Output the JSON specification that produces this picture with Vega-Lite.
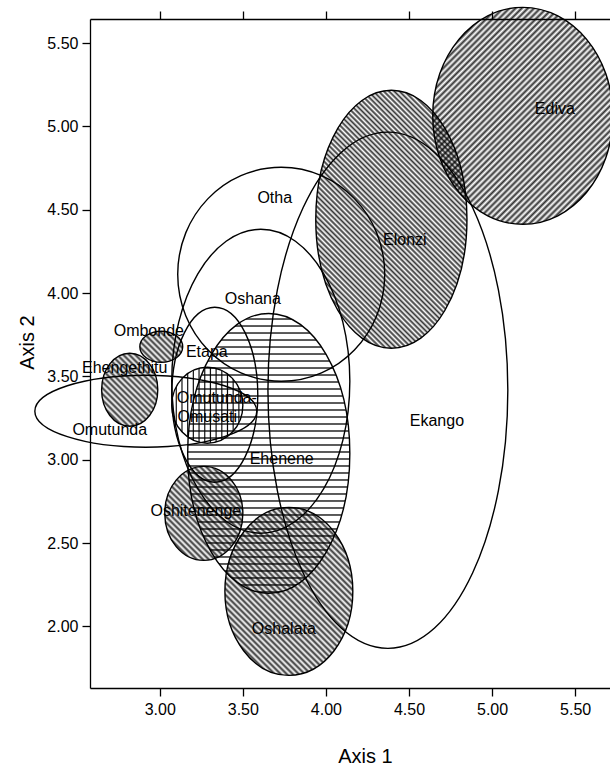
{
"$schema":"https://vega.github.io/schema/vega-lite/v6.json",
"width":520,"height":669,"autosize":"none",
"padding":{"left":90,"top":19,"right":0,"bottom":77},
"config":{"view":{"stroke":null},"axis":{"grid":false,"domainColor":"black","domainWidth":1.3,"tickColor":"black","tickWidth":1.3,"tickSize":8,"labelFont":"Liberation Sans","labelFontSize":16,"labelColor":"black","titleFont":"Liberation Sans","titleFontSize":20,"titleFontWeight":"normal","titleColor":"black"}},
"datasets":{
"ell":[
{"e":"Ediva","o":0,"x":5.185,"y":5.715},{"e":"Ediva","o":1,"x":5.727,"y":5.064},{"e":"Ediva","o":2,"x":5.185,"y":4.413},{"e":"Ediva","o":3,"x":4.643,"y":5.064},
{"e":"Elonzi","o":0,"x":4.394,"y":5.217},{"e":"Elonzi","o":1,"x":4.849,"y":4.443},{"e":"Elonzi","o":2,"x":4.394,"y":3.669},{"e":"Elonzi","o":3,"x":3.939,"y":4.443},
{"e":"Ekango","o":0,"x":4.373,"y":4.966},{"e":"Ekango","o":1,"x":5.095,"y":3.417},{"e":"Ekango","o":2,"x":4.373,"y":1.868},{"e":"Ekango","o":3,"x":3.651,"y":3.417},
{"e":"Otha","o":0,"x":3.731,"y":4.755},{"e":"Otha","o":1,"x":4.354,"y":4.113},{"e":"Otha","o":2,"x":3.731,"y":3.471},{"e":"Otha","o":3,"x":3.108,"y":4.113},
{"e":"Oshana","o":0,"x":3.608,"y":4.383},{"e":"Oshana","o":1,"x":4.144,"y":3.471},{"e":"Oshana","o":2,"x":3.608,"y":2.559},{"e":"Oshana","o":3,"x":3.072,"y":3.471},
{"e":"Etapa","o":0,"x":3.331,"y":3.915},{"e":"Etapa","o":1,"x":3.59,"y":3.39},{"e":"Etapa","o":2,"x":3.331,"y":2.865},{"e":"Etapa","o":3,"x":3.072,"y":3.39},
{"e":"Ombonde","o":0,"x":3.009,"y":3.771},{"e":"Ombonde","o":1,"x":3.138,"y":3.678},{"e":"Ombonde","o":2,"x":3.009,"y":3.585},{"e":"Ombonde","o":3,"x":2.88,"y":3.678},
{"e":"Ehengethitu","o":0,"x":2.819,"y":3.639},{"e":"Ehengethitu","o":1,"x":2.988,"y":3.42},{"e":"Ehengethitu","o":2,"x":2.819,"y":3.201},{"e":"Ehengethitu","o":3,"x":2.65,"y":3.42},
{"e":"Omutunda","o":0,"x":2.916,"y":3.507},{"e":"Omutunda","o":1,"x":3.584,"y":3.291},{"e":"Omutunda","o":2,"x":2.916,"y":3.075},{"e":"Omutunda","o":3,"x":2.248,"y":3.291},
{"e":"Omutunda-Omusati","o":0,"x":3.286,"y":3.555},{"e":"Omutunda-Omusati","o":1,"x":3.5,"y":3.327},{"e":"Omutunda-Omusati","o":2,"x":3.286,"y":3.099},{"e":"Omutunda-Omusati","o":3,"x":3.072,"y":3.327},
{"e":"Ehenene","o":0,"x":3.656,"y":3.878},{"e":"Ehenene","o":1,"x":4.144,"y":3.038},{"e":"Ehenene","o":2,"x":3.656,"y":2.198},{"e":"Ehenene","o":3,"x":3.168,"y":3.038},
{"e":"Oshitenenge","o":0,"x":3.265,"y":2.96},{"e":"Oshitenenge","o":1,"x":3.5,"y":2.678},{"e":"Oshitenenge","o":2,"x":3.265,"y":2.396},{"e":"Oshitenenge","o":3,"x":3.03,"y":2.678},
{"e":"Oshalata","o":0,"x":3.777,"y":2.714},{"e":"Oshalata","o":1,"x":4.162,"y":2.21},{"e":"Oshalata","o":2,"x":3.777,"y":1.706},{"e":"Oshalata","o":3,"x":3.392,"y":2.21}
],
"lab":[
{"name":"Ediva","x":5.378,"y":5.103},{"name":"Elonzi","x":4.475,"y":4.317},{"name":"Otha","x":3.692,"y":4.569},{"name":"Oshana","x":3.56,"y":3.963},{"name":"Ombonde","x":2.934,"y":3.771},{"name":"Etapa","x":3.283,"y":3.645},{"name":"Ehengethitu","x":2.789,"y":3.549},{"name":"Omutunda","x":2.699,"y":3.176},{"name":"Omutunda-","x":3.343,"y":3.369},{"name":"Omusati","x":3.286,"y":3.254},{"name":"Ekango","x":4.668,"y":3.23},{"name":"Ehenene","x":3.734,"y":3.002},{"name":"Oshitenenge","x":3.217,"y":2.69},{"name":"Oshalata","x":3.747,"y":1.982}
]},
"resolve":{"axis":{"x":"independent","y":"independent"}},
"layer":[
{"data":{"name":"ell"},"transform":[{"filter":"datum.e === 'Ediva'"}],
"mark":{"type":"line","interpolate":"cardinal-closed","tension":-0.657,"strokeOpacity":0,"fill":{"gradient":"linear","x1":0,"y1":0,"x2":1.4049,"y2":1.6919,"stops":[
{"offset":0,"color":"transparent"},{"offset":0.005,"color":"rgba(0,0,0,0.8)"},{"offset":0.01,"color":"transparent"},{"offset":0.015,"color":"rgba(0,0,0,0.8)"},{"offset":0.02,"color":"transparent"},{"offset":0.025,"color":"rgba(0,0,0,0.8)"},{"offset":0.03,"color":"transparent"},{"offset":0.035,"color":"rgba(0,0,0,0.8)"},{"offset":0.04,"color":"transparent"},{"offset":0.045,"color":"rgba(0,0,0,0.8)"},{"offset":0.05,"color":"transparent"},{"offset":0.055,"color":"rgba(0,0,0,0.8)"},{"offset":0.06,"color":"transparent"},{"offset":0.065,"color":"rgba(0,0,0,0.8)"},{"offset":0.07,"color":"transparent"},{"offset":0.075,"color":"rgba(0,0,0,0.8)"},{"offset":0.08,"color":"transparent"},{"offset":0.085,"color":"rgba(0,0,0,0.8)"},{"offset":0.09,"color":"transparent"},{"offset":0.095,"color":"rgba(0,0,0,0.8)"},
{"offset":0.1,"color":"transparent"},{"offset":0.105,"color":"rgba(0,0,0,0.8)"},{"offset":0.11,"color":"transparent"},{"offset":0.115,"color":"rgba(0,0,0,0.8)"},{"offset":0.12,"color":"transparent"},{"offset":0.125,"color":"rgba(0,0,0,0.8)"},{"offset":0.13,"color":"transparent"},{"offset":0.135,"color":"rgba(0,0,0,0.8)"},{"offset":0.14,"color":"transparent"},{"offset":0.145,"color":"rgba(0,0,0,0.8)"},{"offset":0.15,"color":"transparent"},{"offset":0.155,"color":"rgba(0,0,0,0.8)"},{"offset":0.16,"color":"transparent"},{"offset":0.165,"color":"rgba(0,0,0,0.8)"},{"offset":0.17,"color":"transparent"},{"offset":0.175,"color":"rgba(0,0,0,0.8)"},{"offset":0.18,"color":"transparent"},{"offset":0.185,"color":"rgba(0,0,0,0.8)"},{"offset":0.19,"color":"transparent"},{"offset":0.195,"color":"rgba(0,0,0,0.8)"},
{"offset":0.2,"color":"transparent"},{"offset":0.205,"color":"rgba(0,0,0,0.8)"},{"offset":0.21,"color":"transparent"},{"offset":0.215,"color":"rgba(0,0,0,0.8)"},{"offset":0.22,"color":"transparent"},{"offset":0.225,"color":"rgba(0,0,0,0.8)"},{"offset":0.23,"color":"transparent"},{"offset":0.235,"color":"rgba(0,0,0,0.8)"},{"offset":0.24,"color":"transparent"},{"offset":0.245,"color":"rgba(0,0,0,0.8)"},{"offset":0.25,"color":"transparent"},{"offset":0.255,"color":"rgba(0,0,0,0.8)"},{"offset":0.26,"color":"transparent"},{"offset":0.265,"color":"rgba(0,0,0,0.8)"},{"offset":0.27,"color":"transparent"},{"offset":0.275,"color":"rgba(0,0,0,0.8)"},{"offset":0.28,"color":"transparent"},{"offset":0.285,"color":"rgba(0,0,0,0.8)"},{"offset":0.29,"color":"transparent"},{"offset":0.295,"color":"rgba(0,0,0,0.8)"},
{"offset":0.3,"color":"transparent"},{"offset":0.305,"color":"rgba(0,0,0,0.8)"},{"offset":0.31,"color":"transparent"},{"offset":0.315,"color":"rgba(0,0,0,0.8)"},{"offset":0.32,"color":"transparent"},{"offset":0.325,"color":"rgba(0,0,0,0.8)"},{"offset":0.33,"color":"transparent"},{"offset":0.335,"color":"rgba(0,0,0,0.8)"},{"offset":0.34,"color":"transparent"},{"offset":0.345,"color":"rgba(0,0,0,0.8)"},{"offset":0.35,"color":"transparent"},{"offset":0.355,"color":"rgba(0,0,0,0.8)"},{"offset":0.36,"color":"transparent"},{"offset":0.365,"color":"rgba(0,0,0,0.8)"},{"offset":0.37,"color":"transparent"},{"offset":0.375,"color":"rgba(0,0,0,0.8)"},{"offset":0.38,"color":"transparent"},{"offset":0.385,"color":"rgba(0,0,0,0.8)"},{"offset":0.39,"color":"transparent"},{"offset":0.395,"color":"rgba(0,0,0,0.8)"},
{"offset":0.4,"color":"transparent"},{"offset":0.405,"color":"rgba(0,0,0,0.8)"},{"offset":0.41,"color":"transparent"},{"offset":0.415,"color":"rgba(0,0,0,0.8)"},{"offset":0.42,"color":"transparent"},{"offset":0.425,"color":"rgba(0,0,0,0.8)"},{"offset":0.43,"color":"transparent"},{"offset":0.435,"color":"rgba(0,0,0,0.8)"},{"offset":0.44,"color":"transparent"},{"offset":0.445,"color":"rgba(0,0,0,0.8)"},{"offset":0.45,"color":"transparent"},{"offset":0.455,"color":"rgba(0,0,0,0.8)"},{"offset":0.46,"color":"transparent"},{"offset":0.465,"color":"rgba(0,0,0,0.8)"},{"offset":0.47,"color":"transparent"},{"offset":0.475,"color":"rgba(0,0,0,0.8)"},{"offset":0.48,"color":"transparent"},{"offset":0.485,"color":"rgba(0,0,0,0.8)"},{"offset":0.49,"color":"transparent"},{"offset":0.495,"color":"rgba(0,0,0,0.8)"},
{"offset":0.5,"color":"transparent"},{"offset":0.505,"color":"rgba(0,0,0,0.8)"},{"offset":0.51,"color":"transparent"},{"offset":0.515,"color":"rgba(0,0,0,0.8)"},{"offset":0.52,"color":"transparent"},{"offset":0.525,"color":"rgba(0,0,0,0.8)"},{"offset":0.53,"color":"transparent"},{"offset":0.535,"color":"rgba(0,0,0,0.8)"},{"offset":0.54,"color":"transparent"},{"offset":0.545,"color":"rgba(0,0,0,0.8)"},{"offset":0.55,"color":"transparent"},{"offset":0.555,"color":"rgba(0,0,0,0.8)"},{"offset":0.56,"color":"transparent"},{"offset":0.565,"color":"rgba(0,0,0,0.8)"},{"offset":0.57,"color":"transparent"},{"offset":0.575,"color":"rgba(0,0,0,0.8)"},{"offset":0.58,"color":"transparent"},{"offset":0.585,"color":"rgba(0,0,0,0.8)"},{"offset":0.59,"color":"transparent"},{"offset":0.595,"color":"rgba(0,0,0,0.8)"},
{"offset":0.6,"color":"transparent"},{"offset":0.605,"color":"rgba(0,0,0,0.8)"},{"offset":0.61,"color":"transparent"},{"offset":0.615,"color":"rgba(0,0,0,0.8)"},{"offset":0.62,"color":"transparent"},{"offset":0.625,"color":"rgba(0,0,0,0.8)"},{"offset":0.63,"color":"transparent"},{"offset":0.635,"color":"rgba(0,0,0,0.8)"},{"offset":0.64,"color":"transparent"},{"offset":0.645,"color":"rgba(0,0,0,0.8)"},{"offset":0.65,"color":"transparent"}
]}},
"encoding":{"x":{"field":"x","type":"quantitative","scale":{"domain":[2.58,5.71],"nice":false,"zero":false},"axis":null},"y":{"field":"y","type":"quantitative","scale":{"domain":[1.63,5.645],"nice":false,"zero":false},"axis":null},"order":{"field":"o"}}},
{"data":{"name":"ell"},"transform":[{"filter":"datum.e === 'Elonzi'"}],
"mark":{"type":"line","interpolate":"cardinal-closed","tension":-0.657,"strokeOpacity":0,"fill":{"gradient":"linear","x1":0,"y1":1,"x2":0.8797,"y2":-0.5005,"stops":[
{"offset":0,"color":"transparent"},{"offset":0.005,"color":"rgba(0,0,0,0.8)"},{"offset":0.01,"color":"transparent"},{"offset":0.015,"color":"rgba(0,0,0,0.8)"},{"offset":0.02,"color":"transparent"},{"offset":0.025,"color":"rgba(0,0,0,0.8)"},{"offset":0.03,"color":"transparent"},{"offset":0.035,"color":"rgba(0,0,0,0.8)"},{"offset":0.04,"color":"transparent"},{"offset":0.045,"color":"rgba(0,0,0,0.8)"},{"offset":0.05,"color":"transparent"},{"offset":0.055,"color":"rgba(0,0,0,0.8)"},{"offset":0.06,"color":"transparent"},{"offset":0.065,"color":"rgba(0,0,0,0.8)"},{"offset":0.07,"color":"transparent"},{"offset":0.075,"color":"rgba(0,0,0,0.8)"},{"offset":0.08,"color":"transparent"},{"offset":0.085,"color":"rgba(0,0,0,0.8)"},{"offset":0.09,"color":"transparent"},{"offset":0.095,"color":"rgba(0,0,0,0.8)"},
{"offset":0.1,"color":"transparent"},{"offset":0.105,"color":"rgba(0,0,0,0.8)"},{"offset":0.11,"color":"transparent"},{"offset":0.115,"color":"rgba(0,0,0,0.8)"},{"offset":0.12,"color":"transparent"},{"offset":0.125,"color":"rgba(0,0,0,0.8)"},{"offset":0.13,"color":"transparent"},{"offset":0.135,"color":"rgba(0,0,0,0.8)"},{"offset":0.14,"color":"transparent"},{"offset":0.145,"color":"rgba(0,0,0,0.8)"},{"offset":0.15,"color":"transparent"},{"offset":0.155,"color":"rgba(0,0,0,0.8)"},{"offset":0.16,"color":"transparent"},{"offset":0.165,"color":"rgba(0,0,0,0.8)"},{"offset":0.17,"color":"transparent"},{"offset":0.175,"color":"rgba(0,0,0,0.8)"},{"offset":0.18,"color":"transparent"},{"offset":0.185,"color":"rgba(0,0,0,0.8)"},{"offset":0.19,"color":"transparent"},{"offset":0.195,"color":"rgba(0,0,0,0.8)"},
{"offset":0.2,"color":"transparent"},{"offset":0.205,"color":"rgba(0,0,0,0.8)"},{"offset":0.21,"color":"transparent"},{"offset":0.215,"color":"rgba(0,0,0,0.8)"},{"offset":0.22,"color":"transparent"},{"offset":0.225,"color":"rgba(0,0,0,0.8)"},{"offset":0.23,"color":"transparent"},{"offset":0.235,"color":"rgba(0,0,0,0.8)"},{"offset":0.24,"color":"transparent"},{"offset":0.245,"color":"rgba(0,0,0,0.8)"},{"offset":0.25,"color":"transparent"},{"offset":0.255,"color":"rgba(0,0,0,0.8)"},{"offset":0.26,"color":"transparent"},{"offset":0.265,"color":"rgba(0,0,0,0.8)"},{"offset":0.27,"color":"transparent"},{"offset":0.275,"color":"rgba(0,0,0,0.8)"},{"offset":0.28,"color":"transparent"},{"offset":0.285,"color":"rgba(0,0,0,0.8)"},{"offset":0.29,"color":"transparent"},{"offset":0.295,"color":"rgba(0,0,0,0.8)"},
{"offset":0.3,"color":"transparent"},{"offset":0.305,"color":"rgba(0,0,0,0.8)"},{"offset":0.31,"color":"transparent"},{"offset":0.315,"color":"rgba(0,0,0,0.8)"},{"offset":0.32,"color":"transparent"},{"offset":0.325,"color":"rgba(0,0,0,0.8)"},{"offset":0.33,"color":"transparent"},{"offset":0.335,"color":"rgba(0,0,0,0.8)"},{"offset":0.34,"color":"transparent"},{"offset":0.345,"color":"rgba(0,0,0,0.8)"},{"offset":0.35,"color":"transparent"},{"offset":0.355,"color":"rgba(0,0,0,0.8)"},{"offset":0.36,"color":"transparent"},{"offset":0.365,"color":"rgba(0,0,0,0.8)"},{"offset":0.37,"color":"transparent"},{"offset":0.375,"color":"rgba(0,0,0,0.8)"},{"offset":0.38,"color":"transparent"},{"offset":0.385,"color":"rgba(0,0,0,0.8)"},{"offset":0.39,"color":"transparent"},{"offset":0.395,"color":"rgba(0,0,0,0.8)"},
{"offset":0.4,"color":"transparent"},{"offset":0.405,"color":"rgba(0,0,0,0.8)"},{"offset":0.41,"color":"transparent"},{"offset":0.415,"color":"rgba(0,0,0,0.8)"},{"offset":0.42,"color":"transparent"},{"offset":0.425,"color":"rgba(0,0,0,0.8)"},{"offset":0.43,"color":"transparent"},{"offset":0.435,"color":"rgba(0,0,0,0.8)"},{"offset":0.44,"color":"transparent"},{"offset":0.445,"color":"rgba(0,0,0,0.8)"},{"offset":0.45,"color":"transparent"},{"offset":0.455,"color":"rgba(0,0,0,0.8)"},{"offset":0.46,"color":"transparent"},{"offset":0.465,"color":"rgba(0,0,0,0.8)"},{"offset":0.47,"color":"transparent"},{"offset":0.475,"color":"rgba(0,0,0,0.8)"},{"offset":0.48,"color":"transparent"},{"offset":0.485,"color":"rgba(0,0,0,0.8)"},{"offset":0.49,"color":"transparent"},{"offset":0.495,"color":"rgba(0,0,0,0.8)"},
{"offset":0.5,"color":"transparent"},{"offset":0.505,"color":"rgba(0,0,0,0.8)"},{"offset":0.51,"color":"transparent"},{"offset":0.515,"color":"rgba(0,0,0,0.8)"},{"offset":0.52,"color":"transparent"},{"offset":0.525,"color":"rgba(0,0,0,0.8)"},{"offset":0.53,"color":"transparent"},{"offset":0.535,"color":"rgba(0,0,0,0.8)"},{"offset":0.54,"color":"transparent"},{"offset":0.545,"color":"rgba(0,0,0,0.8)"},{"offset":0.55,"color":"transparent"},{"offset":0.555,"color":"rgba(0,0,0,0.8)"},{"offset":0.56,"color":"transparent"},{"offset":0.565,"color":"rgba(0,0,0,0.8)"},{"offset":0.57,"color":"transparent"},{"offset":0.575,"color":"rgba(0,0,0,0.8)"},{"offset":0.58,"color":"transparent"},{"offset":0.585,"color":"rgba(0,0,0,0.8)"},{"offset":0.59,"color":"transparent"},{"offset":0.595,"color":"rgba(0,0,0,0.8)"},
{"offset":0.6,"color":"transparent"},{"offset":0.605,"color":"rgba(0,0,0,0.8)"},{"offset":0.61,"color":"transparent"},{"offset":0.615,"color":"rgba(0,0,0,0.8)"},{"offset":0.62,"color":"transparent"},{"offset":0.625,"color":"rgba(0,0,0,0.8)"},{"offset":0.63,"color":"transparent"},{"offset":0.635,"color":"rgba(0,0,0,0.8)"},{"offset":0.64,"color":"transparent"},{"offset":0.645,"color":"rgba(0,0,0,0.8)"},{"offset":0.65,"color":"transparent"},{"offset":0.655,"color":"rgba(0,0,0,0.8)"},{"offset":0.66,"color":"transparent"},{"offset":0.665,"color":"rgba(0,0,0,0.8)"},{"offset":0.67,"color":"transparent"},{"offset":0.675,"color":"rgba(0,0,0,0.8)"},{"offset":0.68,"color":"transparent"},{"offset":0.685,"color":"rgba(0,0,0,0.8)"},{"offset":0.69,"color":"transparent"},{"offset":0.695,"color":"rgba(0,0,0,0.8)"},
{"offset":0.7,"color":"transparent"},{"offset":0.705,"color":"rgba(0,0,0,0.8)"},{"offset":0.71,"color":"transparent"},{"offset":0.715,"color":"rgba(0,0,0,0.8)"},{"offset":0.72,"color":"transparent"},{"offset":0.725,"color":"rgba(0,0,0,0.8)"},{"offset":0.73,"color":"transparent"},{"offset":0.735,"color":"rgba(0,0,0,0.8)"},{"offset":0.74,"color":"transparent"},{"offset":0.745,"color":"rgba(0,0,0,0.8)"},{"offset":0.75,"color":"transparent"},{"offset":0.755,"color":"rgba(0,0,0,0.8)"},{"offset":0.76,"color":"transparent"},{"offset":0.765,"color":"rgba(0,0,0,0.8)"},{"offset":0.77,"color":"transparent"},{"offset":0.775,"color":"rgba(0,0,0,0.8)"},{"offset":0.78,"color":"transparent"},{"offset":0.785,"color":"rgba(0,0,0,0.8)"},{"offset":0.79,"color":"transparent"}
]}},
"encoding":{"x":{"field":"x","type":"quantitative","scale":{"domain":[2.58,5.71],"nice":false,"zero":false},"axis":null},"y":{"field":"y","type":"quantitative","scale":{"domain":[1.63,5.645],"nice":false,"zero":false},"axis":null},"order":{"field":"o"}}},
{"data":{"name":"ell"},"transform":[{"filter":"datum.e === 'Oshalata'"}],
"mark":{"type":"line","interpolate":"cardinal-closed","tension":-0.657,"strokeOpacity":0,"fill":{"gradient":"linear","x1":0,"y1":1,"x2":1.7227,"y2":-1.2628,"stops":[
{"offset":0,"color":"transparent"},{"offset":0.005,"color":"rgba(0,0,0,0.8)"},{"offset":0.01,"color":"transparent"},{"offset":0.015,"color":"rgba(0,0,0,0.8)"},{"offset":0.02,"color":"transparent"},{"offset":0.025,"color":"rgba(0,0,0,0.8)"},{"offset":0.03,"color":"transparent"},{"offset":0.035,"color":"rgba(0,0,0,0.8)"},{"offset":0.04,"color":"transparent"},{"offset":0.045,"color":"rgba(0,0,0,0.8)"},{"offset":0.05,"color":"transparent"},{"offset":0.055,"color":"rgba(0,0,0,0.8)"},{"offset":0.06,"color":"transparent"},{"offset":0.065,"color":"rgba(0,0,0,0.8)"},{"offset":0.07,"color":"transparent"},{"offset":0.075,"color":"rgba(0,0,0,0.8)"},{"offset":0.08,"color":"transparent"},{"offset":0.085,"color":"rgba(0,0,0,0.8)"},{"offset":0.09,"color":"transparent"},{"offset":0.095,"color":"rgba(0,0,0,0.8)"},
{"offset":0.1,"color":"transparent"},{"offset":0.105,"color":"rgba(0,0,0,0.8)"},{"offset":0.11,"color":"transparent"},{"offset":0.115,"color":"rgba(0,0,0,0.8)"},{"offset":0.12,"color":"transparent"},{"offset":0.125,"color":"rgba(0,0,0,0.8)"},{"offset":0.13,"color":"transparent"},{"offset":0.135,"color":"rgba(0,0,0,0.8)"},{"offset":0.14,"color":"transparent"},{"offset":0.145,"color":"rgba(0,0,0,0.8)"},{"offset":0.15,"color":"transparent"},{"offset":0.155,"color":"rgba(0,0,0,0.8)"},{"offset":0.16,"color":"transparent"},{"offset":0.165,"color":"rgba(0,0,0,0.8)"},{"offset":0.17,"color":"transparent"},{"offset":0.175,"color":"rgba(0,0,0,0.8)"},{"offset":0.18,"color":"transparent"},{"offset":0.185,"color":"rgba(0,0,0,0.8)"},{"offset":0.19,"color":"transparent"},{"offset":0.195,"color":"rgba(0,0,0,0.8)"},
{"offset":0.2,"color":"transparent"},{"offset":0.205,"color":"rgba(0,0,0,0.8)"},{"offset":0.21,"color":"transparent"},{"offset":0.215,"color":"rgba(0,0,0,0.8)"},{"offset":0.22,"color":"transparent"},{"offset":0.225,"color":"rgba(0,0,0,0.8)"},{"offset":0.23,"color":"transparent"},{"offset":0.235,"color":"rgba(0,0,0,0.8)"},{"offset":0.24,"color":"transparent"},{"offset":0.245,"color":"rgba(0,0,0,0.8)"},{"offset":0.25,"color":"transparent"},{"offset":0.255,"color":"rgba(0,0,0,0.8)"},{"offset":0.26,"color":"transparent"},{"offset":0.265,"color":"rgba(0,0,0,0.8)"},{"offset":0.27,"color":"transparent"},{"offset":0.275,"color":"rgba(0,0,0,0.8)"},{"offset":0.28,"color":"transparent"},{"offset":0.285,"color":"rgba(0,0,0,0.8)"},{"offset":0.29,"color":"transparent"},{"offset":0.295,"color":"rgba(0,0,0,0.8)"},
{"offset":0.3,"color":"transparent"},{"offset":0.305,"color":"rgba(0,0,0,0.8)"},{"offset":0.31,"color":"transparent"},{"offset":0.315,"color":"rgba(0,0,0,0.8)"},{"offset":0.32,"color":"transparent"},{"offset":0.325,"color":"rgba(0,0,0,0.8)"},{"offset":0.33,"color":"transparent"},{"offset":0.335,"color":"rgba(0,0,0,0.8)"},{"offset":0.34,"color":"transparent"},{"offset":0.345,"color":"rgba(0,0,0,0.8)"},{"offset":0.35,"color":"transparent"},{"offset":0.355,"color":"rgba(0,0,0,0.8)"},{"offset":0.36,"color":"transparent"},{"offset":0.365,"color":"rgba(0,0,0,0.8)"},{"offset":0.37,"color":"transparent"},{"offset":0.375,"color":"rgba(0,0,0,0.8)"},{"offset":0.38,"color":"transparent"},{"offset":0.385,"color":"rgba(0,0,0,0.8)"},{"offset":0.39,"color":"transparent"},{"offset":0.395,"color":"rgba(0,0,0,0.8)"},
{"offset":0.4,"color":"transparent"},{"offset":0.405,"color":"rgba(0,0,0,0.8)"},{"offset":0.41,"color":"transparent"},{"offset":0.415,"color":"rgba(0,0,0,0.8)"},{"offset":0.42,"color":"transparent"},{"offset":0.425,"color":"rgba(0,0,0,0.8)"},{"offset":0.43,"color":"transparent"},{"offset":0.435,"color":"rgba(0,0,0,0.8)"},{"offset":0.44,"color":"transparent"},{"offset":0.445,"color":"rgba(0,0,0,0.8)"},{"offset":0.45,"color":"transparent"},{"offset":0.455,"color":"rgba(0,0,0,0.8)"},{"offset":0.46,"color":"transparent"},{"offset":0.465,"color":"rgba(0,0,0,0.8)"},{"offset":0.47,"color":"transparent"},{"offset":0.475,"color":"rgba(0,0,0,0.8)"},{"offset":0.48,"color":"transparent"},{"offset":0.485,"color":"rgba(0,0,0,0.8)"},{"offset":0.49,"color":"transparent"},{"offset":0.495,"color":"rgba(0,0,0,0.8)"},{"offset":0.5,"color":"transparent"}
]}},
"encoding":{"x":{"field":"x","type":"quantitative","scale":{"domain":[2.58,5.71],"nice":false,"zero":false},"axis":null},"y":{"field":"y","type":"quantitative","scale":{"domain":[1.63,5.645],"nice":false,"zero":false},"axis":null},"order":{"field":"o"}}},
{"data":{"name":"ell"},"transform":[{"filter":"datum.e === 'Oshitenenge'"}],
"mark":{"type":"line","interpolate":"cardinal-closed","tension":-0.657,"strokeOpacity":0,"fill":{"gradient":"linear","x1":0,"y1":1,"x2":3.1374,"y2":-2.7761,"stops":[
{"offset":0,"color":"transparent"},{"offset":0.005,"color":"rgba(0,0,0,0.8)"},{"offset":0.01,"color":"transparent"},{"offset":0.015,"color":"rgba(0,0,0,0.8)"},{"offset":0.02,"color":"transparent"},{"offset":0.025,"color":"rgba(0,0,0,0.8)"},{"offset":0.03,"color":"transparent"},{"offset":0.035,"color":"rgba(0,0,0,0.8)"},{"offset":0.04,"color":"transparent"},{"offset":0.045,"color":"rgba(0,0,0,0.8)"},{"offset":0.05,"color":"transparent"},{"offset":0.055,"color":"rgba(0,0,0,0.8)"},{"offset":0.06,"color":"transparent"},{"offset":0.065,"color":"rgba(0,0,0,0.8)"},{"offset":0.07,"color":"transparent"},{"offset":0.075,"color":"rgba(0,0,0,0.8)"},{"offset":0.08,"color":"transparent"},{"offset":0.085,"color":"rgba(0,0,0,0.8)"},{"offset":0.09,"color":"transparent"},{"offset":0.095,"color":"rgba(0,0,0,0.8)"},
{"offset":0.1,"color":"transparent"},{"offset":0.105,"color":"rgba(0,0,0,0.8)"},{"offset":0.11,"color":"transparent"},{"offset":0.115,"color":"rgba(0,0,0,0.8)"},{"offset":0.12,"color":"transparent"},{"offset":0.125,"color":"rgba(0,0,0,0.8)"},{"offset":0.13,"color":"transparent"},{"offset":0.135,"color":"rgba(0,0,0,0.8)"},{"offset":0.14,"color":"transparent"},{"offset":0.145,"color":"rgba(0,0,0,0.8)"},{"offset":0.15,"color":"transparent"},{"offset":0.155,"color":"rgba(0,0,0,0.8)"},{"offset":0.16,"color":"transparent"},{"offset":0.165,"color":"rgba(0,0,0,0.8)"},{"offset":0.17,"color":"transparent"},{"offset":0.175,"color":"rgba(0,0,0,0.8)"},{"offset":0.18,"color":"transparent"},{"offset":0.185,"color":"rgba(0,0,0,0.8)"},{"offset":0.19,"color":"transparent"},{"offset":0.195,"color":"rgba(0,0,0,0.8)"},
{"offset":0.2,"color":"transparent"},{"offset":0.205,"color":"rgba(0,0,0,0.8)"},{"offset":0.21,"color":"transparent"},{"offset":0.215,"color":"rgba(0,0,0,0.8)"},{"offset":0.22,"color":"transparent"},{"offset":0.225,"color":"rgba(0,0,0,0.8)"},{"offset":0.23,"color":"transparent"},{"offset":0.235,"color":"rgba(0,0,0,0.8)"},{"offset":0.24,"color":"transparent"},{"offset":0.245,"color":"rgba(0,0,0,0.8)"},{"offset":0.25,"color":"transparent"},{"offset":0.255,"color":"rgba(0,0,0,0.8)"},{"offset":0.26,"color":"transparent"},{"offset":0.265,"color":"rgba(0,0,0,0.8)"},{"offset":0.27,"color":"transparent"},{"offset":0.275,"color":"rgba(0,0,0,0.8)"},{"offset":0.28,"color":"transparent"},{"offset":0.285,"color":"rgba(0,0,0,0.8)"},{"offset":0.29,"color":"transparent"}
]}},
"encoding":{"x":{"field":"x","type":"quantitative","scale":{"domain":[2.58,5.71],"nice":false,"zero":false},"axis":null},"y":{"field":"y","type":"quantitative","scale":{"domain":[1.63,5.645],"nice":false,"zero":false},"axis":null},"order":{"field":"o"}}},
{"data":{"name":"ell"},"transform":[{"filter":"datum.e === 'Ehengethitu'"}],
"mark":{"type":"line","interpolate":"cardinal-closed","tension":-0.657,"strokeOpacity":0,"fill":{"gradient":"linear","x1":0,"y1":1,"x2":3.9783,"y2":-4.1675,"stops":[
{"offset":0,"color":"transparent"},{"offset":0.005,"color":"rgba(0,0,0,0.8)"},{"offset":0.01,"color":"transparent"},{"offset":0.015,"color":"rgba(0,0,0,0.8)"},{"offset":0.02,"color":"transparent"},{"offset":0.025,"color":"rgba(0,0,0,0.8)"},{"offset":0.03,"color":"transparent"},{"offset":0.035,"color":"rgba(0,0,0,0.8)"},{"offset":0.04,"color":"transparent"},{"offset":0.045,"color":"rgba(0,0,0,0.8)"},{"offset":0.05,"color":"transparent"},{"offset":0.055,"color":"rgba(0,0,0,0.8)"},{"offset":0.06,"color":"transparent"},{"offset":0.065,"color":"rgba(0,0,0,0.8)"},{"offset":0.07,"color":"transparent"},{"offset":0.075,"color":"rgba(0,0,0,0.8)"},{"offset":0.08,"color":"transparent"},{"offset":0.085,"color":"rgba(0,0,0,0.8)"},{"offset":0.09,"color":"transparent"},{"offset":0.095,"color":"rgba(0,0,0,0.8)"},
{"offset":0.1,"color":"transparent"},{"offset":0.105,"color":"rgba(0,0,0,0.8)"},{"offset":0.11,"color":"transparent"},{"offset":0.115,"color":"rgba(0,0,0,0.8)"},{"offset":0.12,"color":"transparent"},{"offset":0.125,"color":"rgba(0,0,0,0.8)"},{"offset":0.13,"color":"transparent"},{"offset":0.135,"color":"rgba(0,0,0,0.8)"},{"offset":0.14,"color":"transparent"},{"offset":0.145,"color":"rgba(0,0,0,0.8)"},{"offset":0.15,"color":"transparent"},{"offset":0.155,"color":"rgba(0,0,0,0.8)"},{"offset":0.16,"color":"transparent"},{"offset":0.165,"color":"rgba(0,0,0,0.8)"},{"offset":0.17,"color":"transparent"},{"offset":0.175,"color":"rgba(0,0,0,0.8)"},{"offset":0.18,"color":"transparent"},{"offset":0.185,"color":"rgba(0,0,0,0.8)"},{"offset":0.19,"color":"transparent"},{"offset":0.195,"color":"rgba(0,0,0,0.8)"},
{"offset":0.2,"color":"transparent"},{"offset":0.205,"color":"rgba(0,0,0,0.8)"},{"offset":0.21,"color":"transparent"},{"offset":0.215,"color":"rgba(0,0,0,0.8)"},{"offset":0.22,"color":"transparent"}
]}},
"encoding":{"x":{"field":"x","type":"quantitative","scale":{"domain":[2.58,5.71],"nice":false,"zero":false},"axis":null},"y":{"field":"y","type":"quantitative","scale":{"domain":[1.63,5.645],"nice":false,"zero":false},"axis":null},"order":{"field":"o"}}},
{"data":{"name":"ell"},"transform":[{"filter":"datum.e === 'Ombonde'"}],
"mark":{"type":"line","interpolate":"cardinal-closed","tension":-0.657,"strokeOpacity":0,"fill":{"gradient":"linear","x1":0,"y1":1,"x2":9.1896,"y2":-5.6405,"stops":[
{"offset":0,"color":"transparent"},{"offset":0.005,"color":"rgba(0,0,0,0.8)"},{"offset":0.01,"color":"transparent"},{"offset":0.015,"color":"rgba(0,0,0,0.8)"},{"offset":0.02,"color":"transparent"},{"offset":0.025,"color":"rgba(0,0,0,0.8)"},{"offset":0.03,"color":"transparent"},{"offset":0.035,"color":"rgba(0,0,0,0.8)"},{"offset":0.04,"color":"transparent"},{"offset":0.045,"color":"rgba(0,0,0,0.8)"},{"offset":0.05,"color":"transparent"},{"offset":0.055,"color":"rgba(0,0,0,0.8)"},{"offset":0.06,"color":"transparent"},{"offset":0.065,"color":"rgba(0,0,0,0.8)"},{"offset":0.07,"color":"transparent"},{"offset":0.075,"color":"rgba(0,0,0,0.8)"},{"offset":0.08,"color":"transparent"},{"offset":0.085,"color":"rgba(0,0,0,0.8)"},{"offset":0.09,"color":"transparent"},{"offset":0.095,"color":"rgba(0,0,0,0.8)"},
{"offset":0.1,"color":"transparent"},{"offset":0.105,"color":"rgba(0,0,0,0.8)"},{"offset":0.11,"color":"transparent"},{"offset":0.115,"color":"rgba(0,0,0,0.8)"},{"offset":0.12,"color":"transparent"},{"offset":0.125,"color":"rgba(0,0,0,0.8)"},{"offset":0.13,"color":"transparent"}
]}},
"encoding":{"x":{"field":"x","type":"quantitative","scale":{"domain":[2.58,5.71],"nice":false,"zero":false},"axis":null},"y":{"field":"y","type":"quantitative","scale":{"domain":[1.63,5.645],"nice":false,"zero":false},"axis":null},"order":{"field":"o"}}},
{"data":{"name":"ell"},"transform":[{"filter":"datum.e === 'Ehenene'"}],
"mark":{"type":"line","interpolate":"cardinal-closed","tension":-0.657,"strokeOpacity":0,"fill":{"gradient":"linear","x1":0,"y1":0,"x2":0,"y2":1,"stops":[
{"offset":0.015,"color":"transparent"},{"offset":0.02,"color":"#000"},{"offset":0.025,"color":"transparent"},{"offset":0.04,"color":"transparent"},{"offset":0.045,"color":"#000"},{"offset":0.05,"color":"transparent"},{"offset":0.065,"color":"transparent"},{"offset":0.07,"color":"#000"},{"offset":0.075,"color":"transparent"},{"offset":0.09,"color":"transparent"},{"offset":0.095,"color":"#000"},{"offset":0.1,"color":"transparent"},
{"offset":0.115,"color":"transparent"},{"offset":0.12,"color":"#000"},{"offset":0.125,"color":"transparent"},{"offset":0.14,"color":"transparent"},{"offset":0.145,"color":"#000"},{"offset":0.15,"color":"transparent"},{"offset":0.165,"color":"transparent"},{"offset":0.17,"color":"#000"},{"offset":0.175,"color":"transparent"},{"offset":0.19,"color":"transparent"},{"offset":0.195,"color":"#000"},{"offset":0.2,"color":"transparent"},
{"offset":0.215,"color":"transparent"},{"offset":0.22,"color":"#000"},{"offset":0.225,"color":"transparent"},{"offset":0.24,"color":"transparent"},{"offset":0.245,"color":"#000"},{"offset":0.25,"color":"transparent"},{"offset":0.265,"color":"transparent"},{"offset":0.27,"color":"#000"},{"offset":0.275,"color":"transparent"},{"offset":0.29,"color":"transparent"},{"offset":0.295,"color":"#000"},{"offset":0.3,"color":"transparent"},
{"offset":0.315,"color":"transparent"},{"offset":0.32,"color":"#000"},{"offset":0.325,"color":"transparent"},{"offset":0.34,"color":"transparent"},{"offset":0.345,"color":"#000"},{"offset":0.35,"color":"transparent"},{"offset":0.365,"color":"transparent"},{"offset":0.37,"color":"#000"},{"offset":0.375,"color":"transparent"},{"offset":0.39,"color":"transparent"},{"offset":0.395,"color":"#000"},{"offset":0.4,"color":"transparent"},
{"offset":0.415,"color":"transparent"},{"offset":0.42,"color":"#000"},{"offset":0.425,"color":"transparent"},{"offset":0.44,"color":"transparent"},{"offset":0.445,"color":"#000"},{"offset":0.45,"color":"transparent"},{"offset":0.465,"color":"transparent"},{"offset":0.47,"color":"#000"},{"offset":0.475,"color":"transparent"},{"offset":0.49,"color":"transparent"},{"offset":0.495,"color":"#000"},{"offset":0.5,"color":"transparent"},
{"offset":0.515,"color":"transparent"},{"offset":0.52,"color":"#000"},{"offset":0.525,"color":"transparent"},{"offset":0.54,"color":"transparent"},{"offset":0.545,"color":"#000"},{"offset":0.55,"color":"transparent"},{"offset":0.565,"color":"transparent"},{"offset":0.57,"color":"#000"},{"offset":0.575,"color":"transparent"},{"offset":0.59,"color":"transparent"},{"offset":0.595,"color":"#000"},{"offset":0.6,"color":"transparent"},
{"offset":0.615,"color":"transparent"},{"offset":0.62,"color":"#000"},{"offset":0.625,"color":"transparent"},{"offset":0.64,"color":"transparent"},{"offset":0.645,"color":"#000"},{"offset":0.65,"color":"transparent"},{"offset":0.665,"color":"transparent"},{"offset":0.67,"color":"#000"},{"offset":0.675,"color":"transparent"},{"offset":0.69,"color":"transparent"},{"offset":0.695,"color":"#000"},{"offset":0.7,"color":"transparent"},
{"offset":0.715,"color":"transparent"},{"offset":0.72,"color":"#000"},{"offset":0.725,"color":"transparent"},{"offset":0.74,"color":"transparent"},{"offset":0.745,"color":"#000"},{"offset":0.75,"color":"transparent"},{"offset":0.765,"color":"transparent"},{"offset":0.77,"color":"#000"},{"offset":0.775,"color":"transparent"},{"offset":0.79,"color":"transparent"},{"offset":0.795,"color":"#000"},{"offset":0.8,"color":"transparent"},
{"offset":0.815,"color":"transparent"},{"offset":0.82,"color":"#000"},{"offset":0.825,"color":"transparent"},{"offset":0.84,"color":"transparent"},{"offset":0.845,"color":"#000"},{"offset":0.85,"color":"transparent"},{"offset":0.865,"color":"transparent"},{"offset":0.87,"color":"#000"},{"offset":0.875,"color":"transparent"},{"offset":0.89,"color":"transparent"},{"offset":0.895,"color":"#000"},{"offset":0.9,"color":"transparent"},
{"offset":0.915,"color":"transparent"},{"offset":0.92,"color":"#000"},{"offset":0.925,"color":"transparent"},{"offset":0.94,"color":"transparent"},{"offset":0.945,"color":"#000"},{"offset":0.95,"color":"transparent"},{"offset":0.965,"color":"transparent"},{"offset":0.97,"color":"#000"},{"offset":0.975,"color":"transparent"},{"offset":0.99,"color":"transparent"},{"offset":0.995,"color":"#000"},{"offset":1,"color":"transparent"}
]}},
"encoding":{"x":{"field":"x","type":"quantitative","scale":{"domain":[2.58,5.71],"nice":false,"zero":false},"axis":null},"y":{"field":"y","type":"quantitative","scale":{"domain":[1.63,5.645],"nice":false,"zero":false},"axis":null},"order":{"field":"o"}}},
{"data":{"name":"ell"},"transform":[{"filter":"datum.e === 'Omutunda-Omusati'"}],
"mark":{"type":"line","interpolate":"cardinal-closed","tension":-0.657,"strokeOpacity":0,"fill":{"gradient":"linear","x1":0,"y1":0,"x2":1,"y2":0,"stops":[
{"offset":0.048,"color":"transparent"},{"offset":0.064,"color":"#000"},{"offset":0.08,"color":"transparent"},{"offset":0.128,"color":"transparent"},{"offset":0.144,"color":"#000"},{"offset":0.16,"color":"transparent"},{"offset":0.208,"color":"transparent"},{"offset":0.224,"color":"#000"},{"offset":0.24,"color":"transparent"},{"offset":0.288,"color":"transparent"},{"offset":0.304,"color":"#000"},{"offset":0.32,"color":"transparent"},{"offset":0.368,"color":"transparent"},{"offset":0.384,"color":"#000"},{"offset":0.4,"color":"transparent"},{"offset":0.448,"color":"transparent"},{"offset":0.464,"color":"#000"},{"offset":0.48,"color":"transparent"},{"offset":0.528,"color":"transparent"},{"offset":0.544,"color":"#000"},{"offset":0.56,"color":"transparent"},{"offset":0.608,"color":"transparent"},{"offset":0.624,"color":"#000"},{"offset":0.64,"color":"transparent"},{"offset":0.688,"color":"transparent"},{"offset":0.704,"color":"#000"},{"offset":0.72,"color":"transparent"},{"offset":0.768,"color":"transparent"},{"offset":0.784,"color":"#000"},{"offset":0.8,"color":"transparent"},{"offset":0.848,"color":"transparent"},{"offset":0.864,"color":"#000"},{"offset":0.88,"color":"transparent"},{"offset":0.928,"color":"transparent"},{"offset":0.944,"color":"#000"},{"offset":0.96,"color":"transparent"}
]}},
"encoding":{"x":{"field":"x","type":"quantitative","scale":{"domain":[2.58,5.71],"nice":false,"zero":false},"axis":null},"y":{"field":"y","type":"quantitative","scale":{"domain":[1.63,5.645],"nice":false,"zero":false},"axis":null},"order":{"field":"o"}}},
{"data":{"name":"ell"},
"mark":{"type":"line","interpolate":"cardinal-closed","tension":-0.657,"stroke":"black","strokeWidth":1.4},
"encoding":{"x":{"field":"x","type":"quantitative","scale":{"domain":[2.58,5.71],"nice":false,"zero":false},"axis":{"orient":"bottom","values":[3,3.5,4,4.5,5,5.5],"format":".2f","title":"Axis 1","labelPadding":5,"titleX":275,"titleY":74,"titleAlign":"center","titleBaseline":"alphabetic","labelFlush":false}},"y":{"field":"y","type":"quantitative","scale":{"domain":[1.63,5.645],"nice":false,"zero":false},"axis":{"orient":"left","values":[2,2.5,3,3.5,4,4.5,5,5.5],"format":".2f","title":"Axis 2","labelPadding":4,"titleX":-57,"titleY":323,"titleAngle":-90,"titleAlign":"center","titleBaseline":"alphabetic","labelFlush":false}},"detail":{"field":"e"},"order":{"field":"o"}}},
{"data":{"name":"lab"},
"mark":{"type":"text","font":"Liberation Sans","fontSize":16,"color":"black","align":"center","baseline":"middle"},
"encoding":{"x":{"field":"x","type":"quantitative","scale":{"domain":[2.58,5.71],"nice":false,"zero":false},"axis":{"orient":"top","values":[3,3.5,4,4.5,5,5.5],"labels":false,"title":null}},"y":{"field":"y","type":"quantitative","scale":{"domain":[1.63,5.645],"nice":false,"zero":false},"axis":null},"text":{"field":"name"}}}
]
}
